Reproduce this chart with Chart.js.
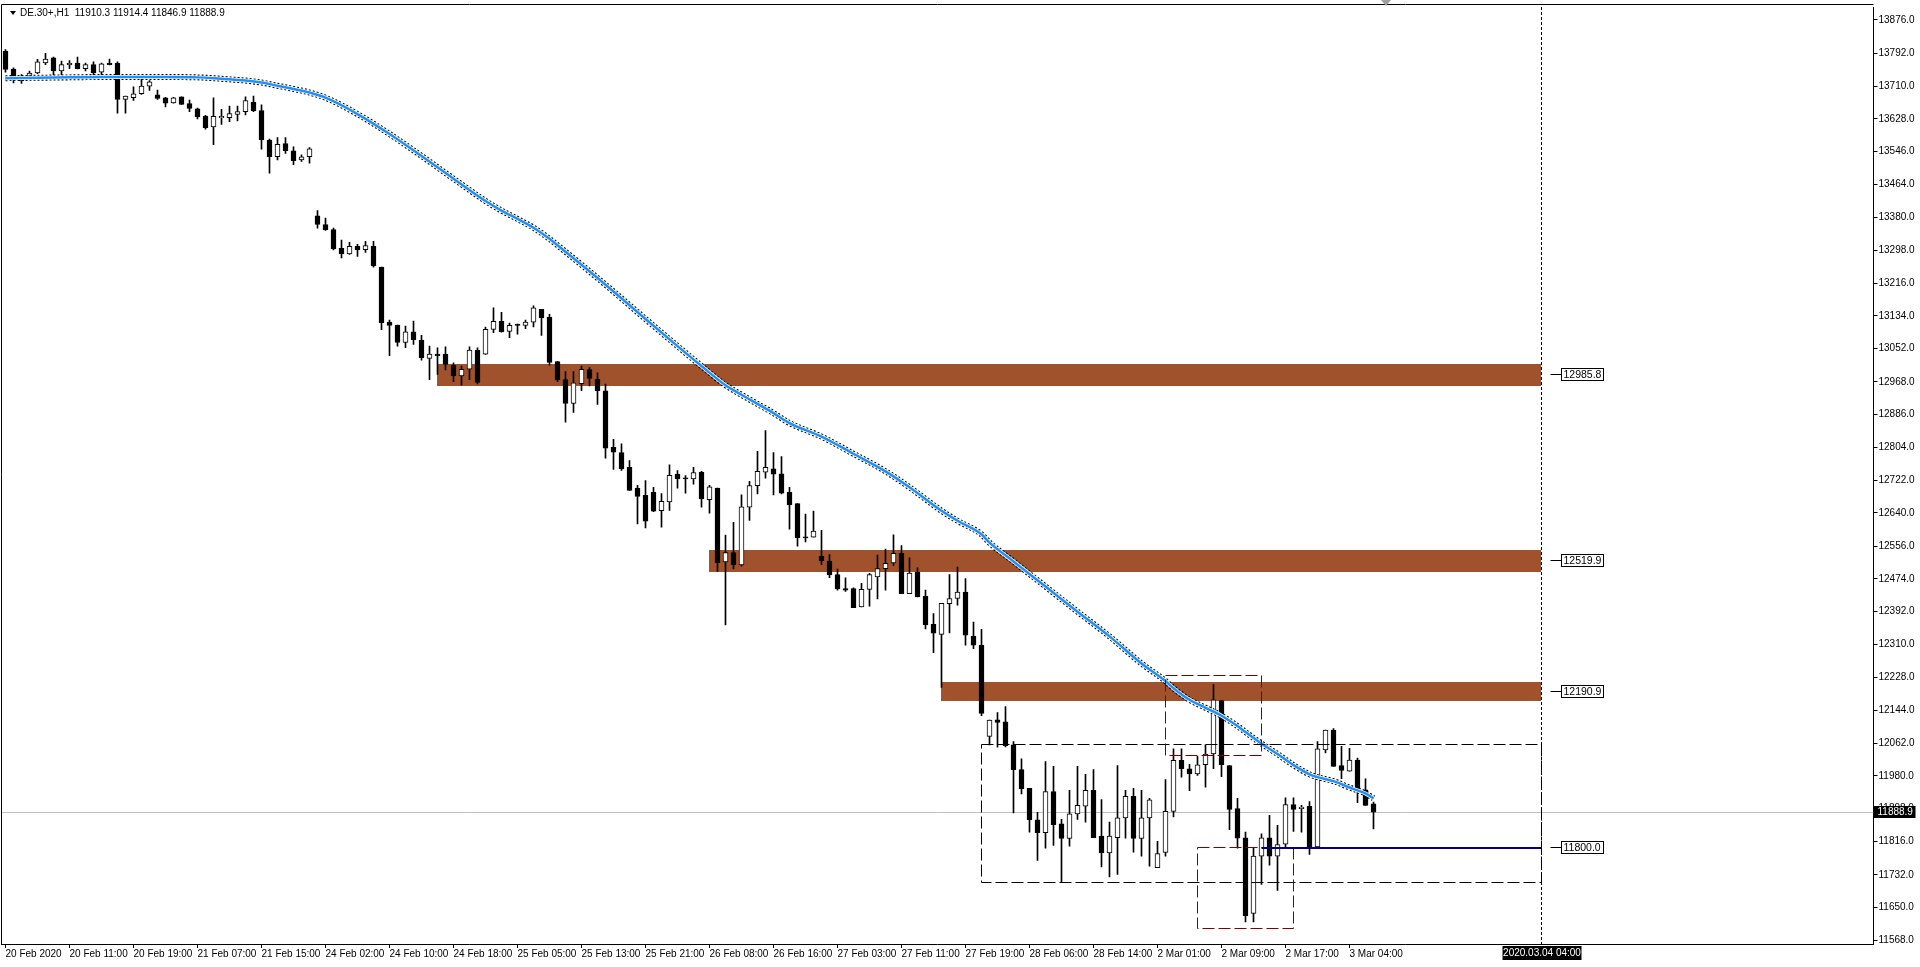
<!DOCTYPE html>
<html>
<head>
<meta charset="utf-8">
<script src="https://cdn.jsdelivr.net/npm/chart.js@4.4.1/dist/chart.umd.min.js"></script>
<style>
html, body { margin: 0; padding: 0; background: #fff; }
#wrap { width: 1920px; height: 967px; position: relative; }
</style>
</head>
<body>
<div id="wrap"><canvas id="chart" width="1920" height="967"></canvas></div>
<script>
// time axis labels, one every 8 hourly bars
var timeLabels = ['20 Feb 2020', '20 Feb 11:00', '20 Feb 19:00', '21 Feb 07:00', '21 Feb 15:00', '24 Feb 02:00',
    '24 Feb 10:00', '24 Feb 18:00', '25 Feb 05:00', '25 Feb 13:00', '25 Feb 21:00', '26 Feb 08:00', '26 Feb 16:00',
    '27 Feb 03:00', '27 Feb 11:00', '27 Feb 19:00', '28 Feb 06:00', '28 Feb 14:00', '2 Mar 01:00', '2 Mar 09:00',
    '2 Mar 17:00', '3 Mar 04:00'];

var opens = [13798, 13753, 13723, 13735, 13743, 13768, 13781, 13748, 13763, 13768,
    13754, 13764, 13745, 13768, 13768, 13677, 13681, 13691, 13710, 13688,
    13681, 13668, 13683, 13666, 13653, 13635, 13608, 13631, 13631, 13639,
    13646, 13670, 13649, 13575, 13533, 13566, 13548, 13525, 13533,
    13385, 13363, 13350, 13303, 13289, 13308, 13300, 13308, 13256, 13118, 13111,
    13067, 13094, 13073, 13027, 13038, 13038, 13010, 12983, 13000, 13048,
    13038, 13100, 13120, 13095, 13113, 13110, 13118, 13150, 13131, 13019,
    12974, 12914, 12964, 12999, 12975, 12946, 12804, 12791, 12754, 12702,
    12684, 12691, 12645, 12667, 12737, 12727, 12725, 12742, 12673, 12702,
    12517, 12540, 12509, 12654, 12708, 12742, 12750, 12738, 12691, 12663,
    12579, 12579, 12531, 12519, 12485, 12450, 12450, 12404, 12448, 12479,
    12500, 12514, 12538, 12437, 12491, 12431, 12360, 12335, 12412, 12425,
    12441, 12331, 12308, 12079, 12121, 12116, 12058, 11996, 11949, 11870,
    11838, 11941, 11860, 11823, 11885, 11904, 11944, 11829, 11787, 11825,
    11875, 11929, 11823, 11875, 11750, 11788, 11891, 12019, 11998, 11985,
    12008, 12035, 12169, 12006, 11898, 11825, 11635, 11779, 11825, 11779,
    11809, 11908, 11898, 11904, 11802, 12045, 12095, 12006, 11992, 12020,
    11945, 11910.3];

var highs = [13802, 13756, 13739, 13748, 13777, 13792, 13783, 13773, 13774, 13783,
    13768, 13771, 13768, 13778, 13771, 13685, 13708, 13727, 13724, 13700,
    13682, 13682, 13683, 13675, 13655, 13637, 13681, 13652, 13660, 13660,
    13683, 13685, 13663, 13577, 13581, 13581, 13558, 13538, 13556,
    13398, 13379, 13354, 13324, 13318, 13313, 13321, 13321, 13256, 13123, 13111,
    13108, 13121, 13085, 13058, 13054, 13056, 13016, 13008, 13056, 13054,
    13106, 13154, 13143, 13116, 13113, 13123, 13159, 13150, 13138, 13019,
    12994, 12994, 13008, 13004, 12991, 12963, 12824, 12813, 12771, 12709,
    12721, 12704, 12688, 12760, 12746, 12733, 12754, 12744, 12709, 12702,
    12584, 12616, 12685, 12719, 12794, 12846, 12791, 12781, 12704, 12663,
    12637, 12644, 12596, 12535, 12499, 12477, 12452, 12463, 12488, 12534,
    12549, 12585, 12558, 12527, 12502, 12446, 12387, 12413, 12485, 12504,
    12475, 12366, 12348, 12120, 12139, 12154, 12066, 12023, 11949, 11889,
    12016, 12004, 11871, 11944, 12004, 11984, 11996, 11921, 11864, 12006,
    11944, 11949, 11944, 11924, 11816, 11971, 12048, 12048, 12009, 12029,
    12058, 12209, 12169, 12006, 11924, 11839, 11799, 11835, 11881, 11856,
    11925, 11925, 11906, 11916, 12066, 12095, 12099, 12054, 12049, 12025,
    11973, 11914.4];

var lows = [13745, 13718, 13717, 13733, 13741, 13764, 13738, 13738, 13754, 13753,
    13748, 13738, 13739, 13763, 13642, 13642, 13674, 13689, 13699, 13677,
    13658, 13667, 13664, 13646, 13628, 13602, 13563, 13614, 13621, 13623,
    13638, 13646, 13552, 13492, 13525, 13541, 13513, 13521, 13517,
    13354, 13348, 13299, 13279, 13288, 13283, 13293, 13256, 13099, 13034, 13058,
    13054, 13062, 13023, 12974, 12987, 12998, 12969, 12960, 12974, 12963,
    13037, 13092, 13093, 13079, 13088, 13102, 13106, 13085, 13010, 12969,
    12867, 12892, 12946, 12958, 12912, 12777, 12749, 12746, 12696, 12612,
    12602, 12643, 12604, 12646, 12702, 12689, 12712, 12654, 12639, 12493,
    12359, 12499, 12506, 12621, 12687, 12727, 12685, 12687, 12599, 12556,
    12567, 12579, 12510, 12477, 12446, 12443, 12402, 12404, 12406, 12424,
    12446, 12508, 12437, 12437, 12429, 12349, 12289, 12202, 12339, 12408,
    12308, 12299, 12131, 12058, 12052, 12053, 11887, 11935, 11839, 11768,
    11799, 11806, 11713, 11804, 11871, 11864, 11825, 11752, 11727, 11733,
    11824, 11789, 11779, 11754, 11750, 11779, 11877, 11977, 11943, 11981,
    11952, 11998, 11978, 11845, 11799, 11614, 11614, 11708, 11756, 11693,
    11802, 11841, 11839, 11783, 11802, 12038, 12004, 11973, 11992, 11913,
    11906, 11846.9];

var closes = [13752, 13731, 13735, 13743, 13771, 13778, 13748, 13764, 13768, 13754,
    13764, 13743, 13766, 13764, 13677, 13685, 13691, 13710, 13721, 13679,
    13667, 13681, 13664, 13654, 13633, 13606, 13634, 13634, 13641, 13646,
    13674, 13648, 13575, 13533, 13564, 13548, 13523, 13533, 13553,
    13363, 13350, 13302, 13289, 13308, 13299, 13310, 13259, 13117, 13110, 13067,
    13094, 13074, 13029, 13038, 13034, 13012, 12983, 13000, 13048, 12967,
    13100, 13120, 13094, 13110, 13110, 13118, 13154, 13129, 13017, 12973,
    12914, 12966, 13000, 12977, 12946, 12802, 12792, 12750, 12696, 12681,
    12619, 12644, 12669, 12734, 12725, 12725, 12741, 12675, 12705, 12515,
    12540, 12509, 12655, 12708, 12744, 12754, 12737, 12689, 12660, 12577,
    12577, 12594, 12520, 12484, 12449, 12446, 12402, 12448, 12485, 12500,
    12513, 12538, 12437, 12489, 12429, 12359, 12338, 12413, 12425, 12441,
    12333, 12308, 12137, 12120, 12114, 12056, 11996, 11948, 11870, 11838,
    11941, 11858, 11823, 11885, 11906, 11944, 11825, 11787, 11829, 11875,
    11929, 11823, 11875, 11920, 11785, 11891, 12019, 11998, 11985, 12008,
    12035, 12171, 12008, 11896, 11824, 11629, 11779, 11825, 11779, 11808,
    11908, 11896, 11902, 11802, 12048, 12095, 12004, 11994, 12020, 11945,
    11906, 11888.9];

// moving average read at these bars
var maBars = [0, 4, 8, 12, 16, 20, 24, 26, 28, 30, 32, 34, 36, 38, 40, 44, 48, 52, 56, 60,
    62, 64, 66, 68, 69, 72, 76, 80, 84, 87, 90, 92, 94, 96, 98, 102, 106, 110, 113, 117,
    119, 122, 123, 126, 130, 134, 138, 142, 145, 146, 148, 150, 152, 154, 155, 157, 159, 161, 163, 164,
    166, 168, 170, 171];
var maValues = [13730, 13731, 13732, 13733, 13733, 13733, 13732, 13730, 13727, 13724, 13719, 13711, 13703, 13694, 13681, 13640, 13590, 13535, 13478, 13422,
    13398, 13377, 13355, 13327, 13311, 13262, 13195, 13126, 13058, 13008, 12960, 12936, 12913, 12890, 12865, 12831, 12788, 12744, 12704, 12645,
    12620, 12586, 12565, 12518, 12455, 12392, 12330, 12262, 12218, 12200, 12171, 12151, 12131, 12105, 12090, 12061, 12035, 12007, 11984, 11977,
    11967, 11951, 11936, 11924];

var yTicks = [13876, 13792, 13710, 13628, 13546, 13464, 13380, 13298, 13216, 13134, 13052, 12968, 12886, 12804,
    12722, 12640, 12556, 12474, 12392, 12310, 12228, 12144, 12062, 11980, 11898, 11816, 11732, 11650, 11568];

// supply / demand zones (start bar, top, bottom) and their price labels
var zoneStart = [54, 88, 117];
var zoneTop = [13013, 12547, 12215];
var zoneBottom = [12958, 12492, 12167];
var levelLabels = [12985.8, 12519.9, 12190.9, 11800.0];

// consolidation box and the two red marker boxes
var rangeBox = [122, 12058, 11713];
var redStart = [145, 149];
var redEnd = [157, 161];
var redTop = [12233, 11800];
var redBottom = [12031, 11597];
var levelStart = 157;
var levelPrice = 11800.0;

var futureBar = 192;
var futureLabel = '2020.03.04 04:00';
var totalBars = 234;

var labels = [];
for (var i = 0; i < totalBars; i++) labels.push(i);

var bodies = opens.map(function (o, i) { return [o, closes[i]]; });
var wicks = lows.map(function (l, i) { return [l, highs[i]]; });
var bodyColors = opens.map(function (o, i) { return closes[i] >= o ? '#ffffff' : '#000000'; });
var maPoints = maBars.map(function (b, k) { return {x: b, y: maValues[k]}; });

var font = '"Liberation Sans", Arial, sans-serif';

function px(chart, v) { return chart.scales.x.getPixelForValue(v); }
function py(chart, v) { return chart.scales.y.getPixelForValue(v); }
function crisp(v) { return Math.floor(v) + 0.5; }

const overlay = {
    id: 'overlay',
    beforeDatasetsDraw(chart) {
        const ctx = chart.ctx, a = chart.chartArea;
        ctx.save();
        // bid line
        ctx.strokeStyle = '#c0c0c0';
        ctx.lineWidth = 1;
        const yb = crisp(py(chart, closes[closes.length - 1]));
        ctx.beginPath();
        ctx.moveTo(a.left, yb);
        ctx.lineTo(a.right, yb);
        ctx.stroke();
        // zones
        ctx.fillStyle = '#a0522d';
        const xe = px(chart, futureBar);
        for (let k = 0; k < zoneStart.length; k++) {
            const x0 = Math.floor(px(chart, zoneStart[k]));
            const y0 = Math.round(py(chart, zoneTop[k]));
            const y1 = Math.round(py(chart, zoneBottom[k]));
            ctx.fillRect(x0, y0, Math.floor(xe) - x0, y1 - y0);
        }
        ctx.restore();
    },
    afterDatasetsDraw(chart) {
        const ctx = chart.ctx, a = chart.chartArea;
        const xe = crisp(px(chart, futureBar));
        ctx.save();
        ctx.lineWidth = 1;
        ctx.setLineDash([12, 4]);
        // black range box
        ctx.strokeStyle = '#000';
        let x0 = crisp(px(chart, rangeBox[0]));
        let y0 = crisp(py(chart, rangeBox[1]));
        let y1 = crisp(py(chart, rangeBox[2]));
        ctx.strokeRect(x0, y0, xe - x0, y1 - y0);
        // red boxes
        ctx.strokeStyle = '#800000';
        for (let k = 0; k < redStart.length; k++) {
            x0 = crisp(px(chart, redStart[k]));
            const x1 = crisp(px(chart, redEnd[k]));
            y0 = crisp(py(chart, redTop[k]));
            y1 = crisp(py(chart, redBottom[k]));
            ctx.strokeRect(x0, y0, x1 - x0, y1 - y0);
        }
        // navy level
        ctx.setLineDash([]);
        ctx.strokeStyle = '#000080';
        ctx.lineWidth = 2;
        const yl = Math.round(py(chart, levelPrice));
        ctx.beginPath();
        ctx.moveTo(px(chart, levelStart), yl);
        ctx.lineTo(xe, yl);
        ctx.stroke();
        // future time marker
        ctx.lineWidth = 1;
        ctx.strokeStyle = '#000';
        ctx.setLineDash([3, 2]);
        ctx.beginPath();
        ctx.moveTo(xe, a.top);
        ctx.lineTo(xe, a.bottom);
        ctx.stroke();
        ctx.restore();
    },
    afterDraw(chart) {
        const ctx = chart.ctx, a = chart.chartArea;
        const xe = crisp(px(chart, futureBar));
        ctx.save();
        // frame, left and top
        ctx.strokeStyle = '#000';
        ctx.lineWidth = 1;
        ctx.beginPath();
        ctx.moveTo(1.5, a.bottom);
        ctx.lineTo(1.5, 4.5);
        ctx.lineTo(a.right, 4.5);
        ctx.stroke();
        // chart shift marker
        ctx.fillStyle = '#a0a0a0';
        ctx.beginPath();
        ctx.moveTo(1381, 0);
        ctx.lineTo(1391, 0);
        ctx.lineTo(1386, 6);
        ctx.closePath();
        ctx.fill();
        // title
        ctx.fillStyle = '#000';
        ctx.beginPath();
        ctx.moveTo(10, 11);
        ctx.lineTo(16, 11);
        ctx.lineTo(13, 15);
        ctx.closePath();
        ctx.fill();
        const n = closes.length - 1;
        ctx.font = '10px ' + font;
        ctx.textBaseline = 'middle';
        ctx.textAlign = 'left';
        ctx.fillText('DE.30+,H1  ' + [opens[n], highs[n], lows[n], closes[n]].map(function (v) { return v.toFixed(1); }).join(' '), 20, 13);
        // level price labels
        ctx.font = '10.5px ' + font;
        for (let k = 0; k < levelLabels.length; k++) {
            const y = crisp(py(chart, levelLabels[k]));
            ctx.beginPath();
            ctx.moveTo(xe + 9, y);
            ctx.lineTo(xe + 20, y);
            ctx.stroke();
            ctx.fillStyle = '#fff';
            ctx.fillRect(xe + 20, y - 6, 42, 12);
            ctx.strokeRect(xe + 20, y - 6, 42, 12);
            ctx.fillStyle = '#000';
            ctx.fillText(levelLabels[k].toFixed(1), xe + 22, y + 0.5);
        }
        // bid box on the price axis
        const yb = Math.round(py(chart, closes[n]));
        ctx.fillStyle = '#000';
        ctx.fillRect(a.right, yb - 6, 42, 12);
        ctx.fillStyle = '#fff';
        ctx.font = '10px ' + font;
        ctx.fillText(closes[n].toFixed(1), a.right + 4, yb);
        // future time box
        ctx.fillStyle = '#000';
        ctx.fillRect(xe - 39, a.bottom + 2, 79, 14);
        ctx.fillStyle = '#fff';
        ctx.textAlign = 'center';
        ctx.fillText(futureLabel, xe + 0.5, a.bottom + 9);
        ctx.restore();
    }
};

const ctx = document.getElementById('chart');

var priceChart = new Chart(ctx, {
    type: 'bar',
    data: {
        labels: labels,
        datasets: [{
            type: 'line',
            label: 'MA',
            data: maPoints,
            borderColor: '#1e90ff',
            borderWidth: 2.5,
            pointRadius: 0,
            cubicInterpolationMode: 'monotone',
            order: 0
        }, {
            type: 'line',
            label: 'MA gap',
            data: maPoints,
            borderColor: '#ffffff',
            borderWidth: 4,
            pointRadius: 0,
            cubicInterpolationMode: 'monotone',
            order: 1
        }, {
            type: 'line',
            label: 'Envelope',
            data: maPoints,
            borderColor: '#000000',
            borderWidth: 6,
            borderDash: [2, 2],
            pointRadius: 0,
            cubicInterpolationMode: 'monotone',
            order: 2
        }, {
            label: 'Body',
            data: bodies,
            backgroundColor: bodyColors,
            borderColor: '#000',
            borderWidth: 1,
            borderSkipped: false,
            barThickness: 5,
            minBarLength: 1,
            grouped: false,
            order: 3
        }, {
            label: 'Wick',
            data: wicks,
            backgroundColor: '#000',
            borderWidth: 0,
            barThickness: 1,
            grouped: false,
            order: 4
        }]
    },
    options: {
        responsive: false,
        animation: false,
        devicePixelRatio: 1,
        layout: {
            padding: {left: 1.5, top: 4, right: 0, bottom: 0}
        },
        plugins: {
            legend: {display: false},
            tooltip: {enabled: false}
        },
        scales: {
            x: {
                type: 'category',
                offset: true,
                grid: {
                    drawOnChartArea: false,
                    offset: false,
                    color: '#000',
                    tickLength: 4
                },
                border: {color: '#000'},
                ticks: {
                    autoSkip: false,
                    maxRotation: 0,
                    align: 'start',
                    padding: 0,
                    color: '#000',
                    font: {family: font, size: 10},
                    callback: function (v) { return timeLabels[v / 8]; }
                },
                afterBuildTicks: function (s) {
                    s.ticks = timeLabels.map(function (t, k) { return {value: k * 8}; });
                },
                afterFit: function (s) { s.height = 23; }
            },
            y: {
                type: 'linear',
                position: 'right',
                min: 11558.5,
                max: 13908.5,
                grid: {
                    drawOnChartArea: false,
                    color: '#000',
                    tickLength: 4
                },
                border: {color: '#000'},
                ticks: {
                    autoSkip: false,
                    padding: 1,
                    color: '#000',
                    font: {family: font, size: 10},
                    callback: function (v) { return v.toFixed(1); }
                },
                afterBuildTicks: function (s) {
                    s.ticks = yTicks.map(function (v) { return {value: v}; });
                },
                afterFit: function (s) { s.width = 46.5; }
            }
        }
    },
    plugins: [overlay]
});
</script>
</body>
</html>
